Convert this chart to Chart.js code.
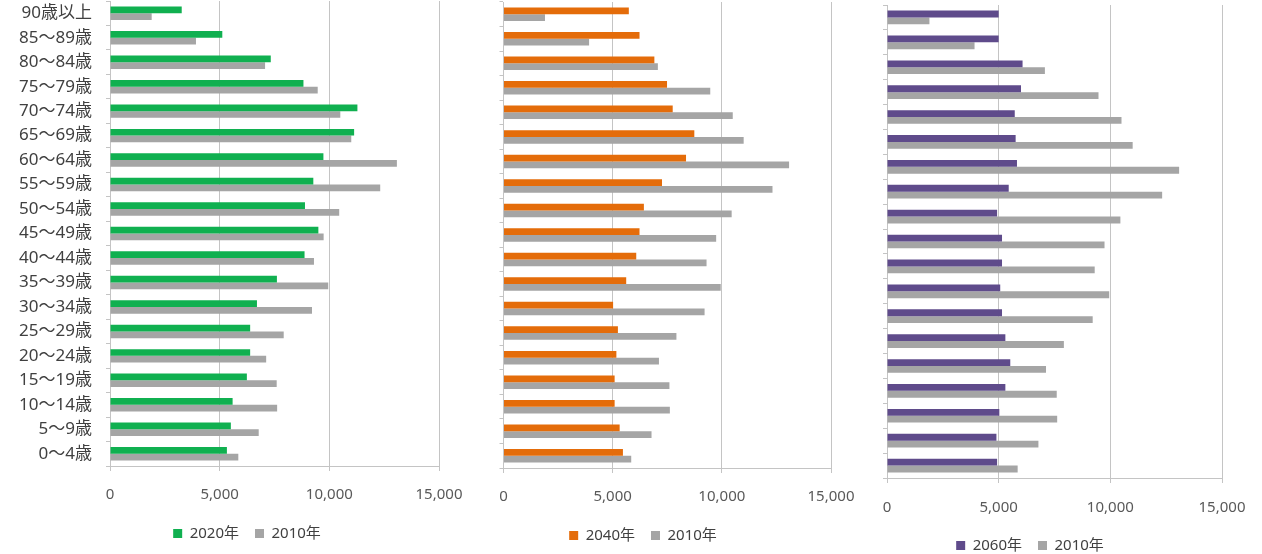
<!DOCTYPE html>
<html lang="ja">
<head>
<meta charset="utf-8">
<title>年齢階級別人口の推移</title>
<script src="https://cdn.jsdelivr.net/npm/chart.js@4.4.1/dist/chart.umd.min.js"></script>
<style>
  html, body { margin: 0; padding: 0; background: #fff; overflow: hidden; }
  .panel { position: absolute; top: 0; }
</style>
</head>
<body>
<canvas id="chart2020" class="panel" width="494" height="600" style="left:0px"></canvas>
<canvas id="chart2040" class="panel" width="436" height="600" style="left:425px"></canvas>
<canvas id="chart2060" class="panel" width="444" height="600" style="left:808px"></canvas>
<script>
// ========================================
// DATA
// ========================================
const ageGroups = [
  "90歳以上", "85～89歳", "80～84歳", "75～79歳", "70～74歳",
  "65～69歳", "60～64歳", "55～59歳", "50～54歳", "45～49歳",
  "40～44歳", "35～39歳", "30～34歳", "25～29歳", "20～24歳",
  "15～19歳", "10～14歳", "5～9歳", "0～4歳",
];

const pop2010 = [
  1900, 3920, 7070, 9470, 10500, 11000, 13080, 12320, 10450, 9740,
  9300, 9950, 9210, 7920, 7120, 7600, 7620, 6780, 5850,
];
const pop2020 = [
  3270, 5120, 7330, 8820, 11280, 11130, 9730, 9270, 8890, 9500,
  8870, 7610, 6700, 6390, 6390, 6240, 5590, 5510, 5330,
];
const pop2040 = [
  5740, 6230, 6910, 7490, 7750, 8740, 8360, 7260, 6430, 6230,
  6080, 5620, 5020, 5240, 5170, 5090, 5090, 5320, 5470,
];
const pop2060 = [
  5000, 5000, 6070, 6000, 5720, 5760, 5820, 5450, 4930, 5150,
  5150, 5070, 5150, 5300, 5520, 5300, 5030, 4900, 4930,
];

const xTicks = [0, 5000, 10000, 15000];

// ========================================
// STYLE
// ========================================
const GRAY = "#A5A5A5";
const LINE = "#C4C4C4";
Chart.defaults.font.family = "'Noto Sans', 'Noto Sans CJK JP', sans-serif";
Chart.defaults.color = "#404040";

/**
 * Vẽ một panel: năm dự báo + năm 2010
 */
function renderPanel(id, label, values, color, g) {
  const ctx = document.getElementById(id);
  new Chart(ctx, {
    type: "bar",
    data: {
      labels: ageGroups,
      datasets: [
        { label: label, data: values, backgroundColor: color, yAxisID: "y" },
        { label: "2010年", data: pop2010, backgroundColor: GRAY, yAxisID: "y" },
      ],
    },
    options: {
      indexAxis: "y",
      responsive: false,
      animation: false,
      datasets: { bar: { categoryPercentage: 0.55, barPercentage: 1.0 } },
      layout: { padding: { top: g.top, bottom: g.bottom, left: 0, right: 0 } },
      plugins: {
        legend: {
          position: "bottom",
          labels: {
            boxWidth: 9,
            boxHeight: 9,
            padding: 16,
            color: "#404040",
            font: { size: 15 },
          },
        },
        tooltip: { enabled: false },
      },
      scales: {
        x: {
          min: xTicks[0],
          max: xTicks[xTicks.length - 1],
          afterBuildTicks: (s) => {
            s.ticks = xTicks.map((v) => ({ value: v }));
          },
          afterFit: (s) => {
            s.height = g.xHeight;
            s.paddingLeft = 0;
            s.paddingRight = 0;
          },
          grid: { color: LINE, tickLength: 5 },
          border: { color: LINE },
          ticks: {
            padding: g.tickPad,
            color: "#595959",
            font: { size: 15 },
            callback: (v) => Number(v).toLocaleString("en-US"),
          },
        },
        y: {
          afterFit: (s) => {
            s.width = g.yWidth;
            s.paddingTop = 0;
            s.paddingBottom = 0;
          },
          grid: { offset: true, drawOnChartArea: false, color: LINE, tickLength: 4 },
          border: { color: LINE },
          ticks: {
            display: g.showLabels,
            padding: 14,
            color: "#404040",
            font: { size: 17 },
          },
        },
        yRight: {
          position: "right",
          afterFit: (s) => {
            s.width = g.rightWidth;
            s.paddingTop = 0;
            s.paddingBottom = 0;
          },
          grid: { display: false },
          border: { display: false },
          ticks: { display: false },
        },
      },
    },
  });
}

renderPanel("chart2020", "2020年", pop2020, "#10B050", {
  top: 1, bottom: 49, xHeight: 44, tickPad: 15,
  yWidth: 110, rightWidth: 55, showLabels: true,
});
renderPanel("chart2040", "2040年", pop2040, "#E46C0A", {
  top: 2, bottom: 47, xHeight: 44, tickPad: 15,
  yWidth: 78.5, rightWidth: 30, showLabels: false,
});
renderPanel("chart2060", "2060年", pop2060, "#5F4B8B", {
  top: 5, bottom: 37, xHeight: 44, tickPad: 16,
  yWidth: 79, rightWidth: 30, showLabels: false,
});
</script>
</body>
</html>
